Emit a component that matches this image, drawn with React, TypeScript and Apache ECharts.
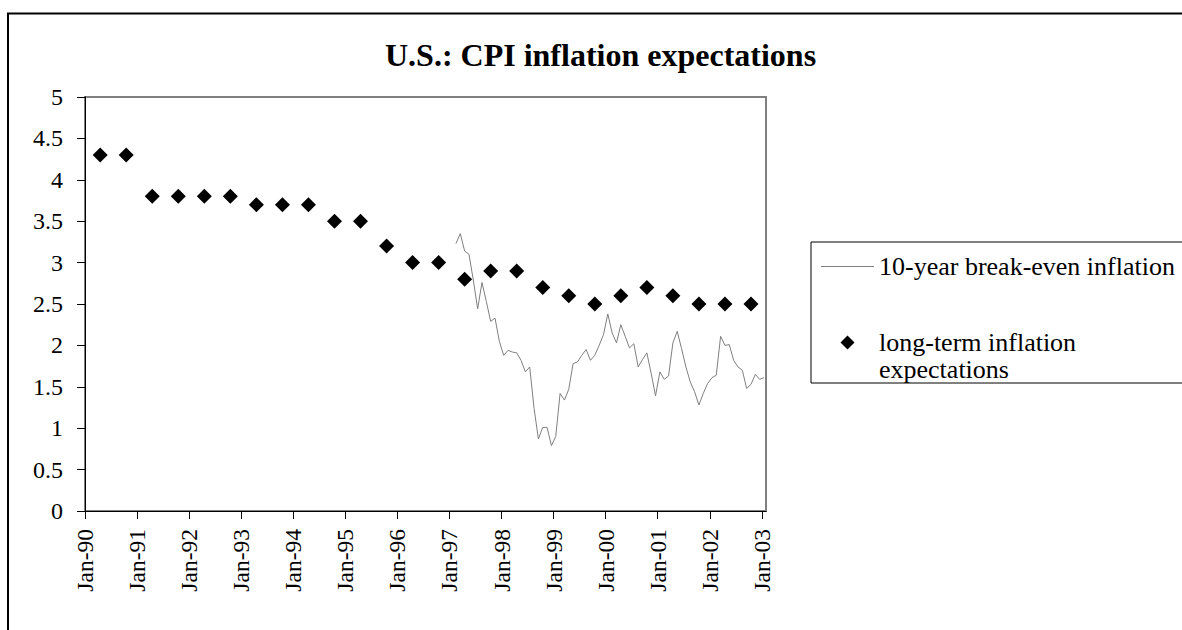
import React, { useEffect, useRef } from "react";
import * as echarts from "echarts";

// ---------- data ----------
const chartTitle = "U.S.: CPI inflation expectations";
const breakevenName = "10-year break-even inflation";
const surveyName = "long-term inflation expectations";

// semi-annual survey of long-term inflation expectations
const surveyMonths = [
  "1990-04", "1990-10", "1991-04", "1991-10", "1992-04", "1992-10",
  "1993-04", "1993-10", "1994-04", "1994-10", "1995-04", "1995-10",
  "1996-04", "1996-10", "1997-04", "1997-10", "1998-04", "1998-10",
  "1999-04", "1999-10", "2000-04", "2000-10", "2001-04", "2001-10",
  "2002-04", "2002-10",
];
const surveyValues = [
  4.3, 4.3, 3.8, 3.8, 3.8, 3.8, 3.7, 3.7, 3.7, 3.5, 3.5, 3.2, 3.0, 3.0,
  2.8, 2.9, 2.9, 2.7, 2.6, 2.5, 2.6, 2.7, 2.6, 2.5, 2.5, 2.5,
];

// monthly 10-year break-even inflation, Feb-1997 .. Jan-2003
const breakevenFirstMonth = "1997-02";
const breakevenValues = [
  // 1997 Feb-Dec
  3.23, 3.35, 3.14, 3.1, 2.79, 2.44, 2.76, 2.53, 2.29, 2.33, 2.05,
  // 1998
  1.88, 1.94, 1.92, 1.91, 1.82, 1.68, 1.74, 1.24, 0.87, 1.01, 1.01, 0.79,
  // 1999
  0.9, 1.42, 1.34, 1.47, 1.78, 1.8, 1.88, 1.95, 1.82, 1.88, 2.0, 2.13,
  // 2000
  2.38, 2.15, 2.03, 2.25, 2.11, 1.97, 2.02, 1.74, 1.83, 1.91, 1.66, 1.39,
  // 2001
  1.68, 1.59, 1.63, 2.03, 2.17, 1.96, 1.74, 1.56, 1.44, 1.28, 1.42, 1.54,
  // 2002
  1.61, 1.64, 2.11, 2.0, 2.01, 1.82, 1.74, 1.7, 1.48, 1.53, 1.65, 1.59,
  // 2003 Jan
  1.61,
];

const xTickYears = [
  1990, 1991, 1992, 1993, 1994, 1995, 1996, 1997, 1998, 1999, 2000, 2001,
  2002, 2003,
];
const yTicks = [0, 0.5, 1, 1.5, 2, 2.5, 3, 3.5, 4, 4.5, 5];

// ---------- helpers ----------
// month "YYYY-MM" -> fractional year at mid-month
function monthToYear(m: string): number {
  const [y, mo] = m.split("-").map(Number);
  return y + (mo - 0.5) / 12;
}
function addMonths(m: string, n: number): string {
  const [y, mo] = m.split("-").map(Number);
  const t = y * 12 + (mo - 1) + n;
  const yy = Math.floor(t / 12);
  const mm = (t % 12) + 1;
  return `${yy}-${String(mm).padStart(2, "0")}`;
}

const FONT = "'Liberation Serif', 'Times New Roman', serif";

export default function App() {
  const ref = useRef<HTMLDivElement>(null);

  useEffect(() => {
    if (!ref.current) return;
    const chart = echarts.init(ref.current, undefined, { renderer: "svg" });

    const breakevenData = breakevenValues.map((v, i) => [
      monthToYear(addMonths(breakevenFirstMonth, i)),
      v,
    ]);
    const surveyData = surveyValues.map((v, i) => [
      monthToYear(surveyMonths[i]),
      v,
    ]);

    const option: any = {
      animation: false,
      backgroundColor: "#fff",
      title: {
        text: chartTitle,
        left: 385,
        top: 39,
        padding: 0,
        textStyle: {
          fontFamily: FONT,
          fontSize: 32,
          fontWeight: "bold",
          color: "#000",
        },
      },
      grid: {
        left: 85,
        top: 97,
        width: 681,
        height: 414,
        show: true,
        borderColor: "#808080",
        borderWidth: 2,
        backgroundColor: "transparent",
      },
      xAxis: {
        type: "value",
        min: 1990,
        max: 2003.08,
        interval: 1,
        axisLine: { show: true, onZero: false, lineStyle: { color: "#000", width: 1 } },
        axisTick: {
          show: true,
          length: 8,
          customValues: xTickYears,
          lineStyle: { color: "#000", width: 1 },
        },
        splitLine: { show: false },
        axisLabel: {
          rotate: 90,
          margin: 18,
          customValues: xTickYears,
          fontFamily: FONT,
          fontSize: 23.5,
          color: "#000",
          formatter: (v: number) =>
            Number.isInteger(v) ? `Jan-${String(v % 100).padStart(2, "0")}` : "",
        },
      },
      yAxis: {
        type: "value",
        min: 0,
        max: 5,
        interval: 0.5,
        axisLine: { show: true, lineStyle: { color: "#000", width: 1 } },
        axisTick: {
          show: true,
          length: 8,
          customValues: yTicks,
          lineStyle: { color: "#000", width: 1 },
        },
        splitLine: { show: false },
        axisLabel: {
          margin: 22,
          customValues: yTicks,
          fontFamily: FONT,
          fontSize: 24,
          color: "#000",
        },
      },
      legend: {
        orient: "vertical",
        left: 811,
        top: 242,
        padding: [11, 10, 0, 10],
        itemWidth: 53,
        itemHeight: 14,
        itemGap: 22,
        borderColor: "#000",
        borderWidth: 1,
        backgroundColor: "#fff",
        selectedMode: false,
        symbolKeepAspect: true,
        textStyle: {
          fontFamily: FONT,
          fontSize: 26,
          color: "#000",
          lineHeight: 27,
        },
        formatter: (name: string) =>
          name === surveyName ? "\nlong-term inflation\nexpectations" : name,
        data: [
          {
            name: breakevenName,
            icon: "path://M0,0h53v1h-53z",
            itemStyle: { color: "#808080" },
          },
          {
            name: surveyName,
            icon: "path://M7,0L14,7L7,14L0,7Z",
            itemStyle: { color: "#000" },
          },
        ],
      },
      series: [
        {
          name: breakevenName,
          type: "line",
          data: breakevenData,
          symbol: "none",
          lineStyle: { color: "#808080", width: 1 },
          itemStyle: { color: "#808080" },
          z: 2,
        },
        {
          name: surveyName,
          type: "scatter",
          data: surveyData,
          symbol: "diamond",
          symbolSize: 15,
          itemStyle: { color: "#000", opacity: 1 },
          z: 3,
        },
      ],
      graphic: [
        {
          type: "rect",
          silent: true,
          z: -10,
          shape: { x: 8, y: 13.5, width: 1400, height: 800 },
          style: { fill: "none", stroke: "#000", lineWidth: 2 },
        },
      ],
    };

    chart.setOption(option);
    return () => chart.dispose();
  }, []);

  return (
    <div
      ref={ref}
      style={{
        position: "fixed",
        left: 0,
        top: 0,
        width: 1182,
        height: 630,
        background: "#fff",
      }}
    />
  );
}
